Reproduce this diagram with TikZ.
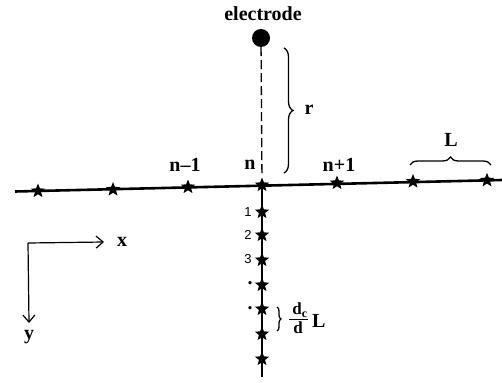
\documentclass[tikz,border=0pt]{standalone}
\usepackage{fontspec}
\setmainfont{Liberation Serif}
\setsansfont{Liberation Sans}
\usetikzlibrary{shapes.geometric,decorations.pathreplacing,arrows.meta}
\tikzset{
  pt/.style={star, star points=5, star point ratio=2.3, fill=black, draw=none, minimum size=15pt, inner sep=0pt},
  lab/.style={font=\fontsize{20}{22}\selectfont\bfseries, inner sep=1pt},
  flab/.style={font=\fontsize{17}{18}\selectfont\bfseries, inner sep=0.5pt},
  num/.style={font=\sffamily\fontsize{13}{15}\selectfont, inner sep=1pt},
  brc/.style={decorate, decoration={brace, amplitude=#1}, line width=1.3pt},
  axis/.style={line width=1.2pt, -{Straight Barb[length=7pt,width=12pt]}}
}
\begin{document}
\begin{tikzpicture}[x=1pt,y=-1pt]
\useasboundingbox (0,0) rectangle (502,382);
% horizontal wire
\coordinate (hl) at (15,191.5);
\coordinate (hr) at (502,180);
\draw[line width=2.6pt] (hl) -- (hr);
\foreach \i/\x/\y in {a/38/191,b/113/189.5,c/188/187,d/262/185,e/337/183,f/413/181.5,g/487/180.3}
  \node[pt] (h\i) at (\x,\y) {};
% vertical wire
\coordinate (vb) at (262,377);
\draw[line width=1.5pt] (hd) -- (vb);
\foreach \i/\y in {1/212,2/235,3/260,4/285,5/309,6/334,7/359}
  \node[pt] (v\i) at (262,\y) {};
\node[num] (l1) at (248,212) {1};
\node[num] (l2) at (248,235) {2};
\node[num] (l3) at (248,259) {3};
\node[font=\fontsize{20}{20}\selectfont\bfseries, inner sep=0pt] (l4) at (250,283) {.};
\node[font=\fontsize{20}{20}\selectfont\bfseries, inner sep=0pt] (l5) at (250,308) {.};
% electrode
\node[circle, fill=black, minimum size=18pt, inner sep=0pt] (el) at (261,38) {};
\node[lab] (elt) at (263,14) {electrode};
\draw[line width=1.3pt, dash pattern=on 9pt off 4pt] (el) -- (hd);
% r brace
\coordinate (rt) at (284,48);
\coordinate (rb) at (284,173);
\draw[brc=9pt] (rt) -- (rb);
\node[lab] (r) at (309,110) {r};
% labels on wire
\node[lab] (nm) at (185,165) {n--1};
\node[lab] (n) at (250,165) {n};
\node[lab] (np) at (339,165) {n+1};
% L brace
\coordinate (La) at (410,165);
\coordinate (Lb) at (491,165);
\draw[brc=8pt] (La) -- (Lb);
\node[lab] (L) at (451,140) {L};
% small brace
\coordinate (sa) at (277,307);
\coordinate (sb) at (277,331);
\draw[brc=4pt] (sa) -- (sb);
\node[flab, anchor=south] (fn) at (300,318) {d\textsubscript{c}};
\node[flab, anchor=north] (fd) at (298,321) {d};
\coordinate (fa) at (289,319.5);
\coordinate (fb) at (308,319.5);
\draw[line width=1.1pt] (fa) -- (fb);
\node[lab, anchor=west] (fL) at (311,321) {L};
% axes
\coordinate (o) at (28,243);
\coordinate (xe) at (104,242);
\coordinate (ye) at (29,323);
\draw[axis] (o) -- (xe);
\draw[axis] (o) -- (ye);
\node[lab] (xl) at (122,242) {x};
\node[lab] (yl) at (29,337) {y};
\end{tikzpicture}
\end{document}
